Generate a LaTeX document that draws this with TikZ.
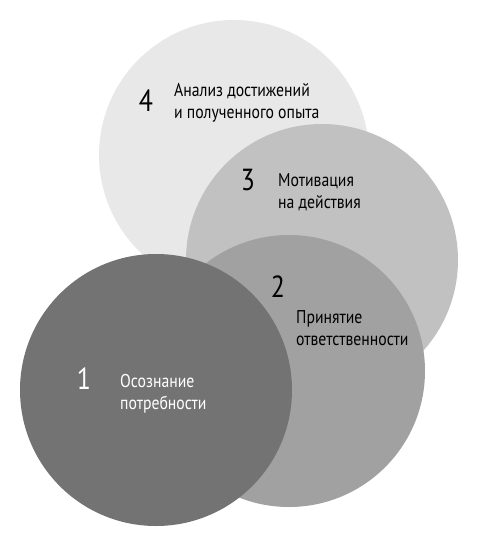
\documentclass[tikz,border=0pt]{standalone}
\usepackage{fontspec}
\newfontfamily\lblfont{PT Sans}[FakeStretch=0.85]
\definecolor{cfour}{HTML}{E8E8E8}
\definecolor{cthree}{HTML}{C1C1C1}
\definecolor{ctwo}{HTML}{A1A1A1}
\definecolor{cone}{HTML}{737373}
\begin{document}
\begin{tikzpicture}[x=1pt,y=-1pt,
  disc/.style={circle, inner sep=0pt, minimum size=272pt, draw=none},
  num/.style={font=\lblfont\fontsize{30.5}{30}\selectfont, inner sep=0pt, anchor=center},
  txt/.style={font=\lblfont\fontsize{18.5}{22}\selectfont, inner sep=0pt, anchor=base west},
]
\useasboundingbox (0,0) rectangle (484,539);
\node[disc, fill=cfour, minimum size=270pt] (c4) at (234,155) {};
\node[disc, fill=cthree] (c3) at (322,260) {};
\node[disc, fill=ctwo] (c2) at (289,371) {};
\node[disc, fill=cone] (c1) at (156,390) {};
\node[num] (n4) at (146,101) {4};
\node[txt] (t4) at (174,96) {\vtop{\hbox{Анализ достижений}\hbox{и полученного опыта}}};
\node[num] (n3) at (248,180) {3};
\node[txt] (t3) at (278,186) {\vtop{\hbox{Мотивация}\hbox{на действия}}};
\node[num] (n2) at (278,287) {2};
\node[txt] (t2) at (296,323) {\vtop{\hbox{Принятие}\hbox{ответственности}}};
\node[num, text=white] (n1) at (84,379) {1};
\node[txt, text=white] (t1) at (120,387) {\vtop{\hbox{Осознание}\hbox{потребности}}};
\end{tikzpicture}
\end{document}
